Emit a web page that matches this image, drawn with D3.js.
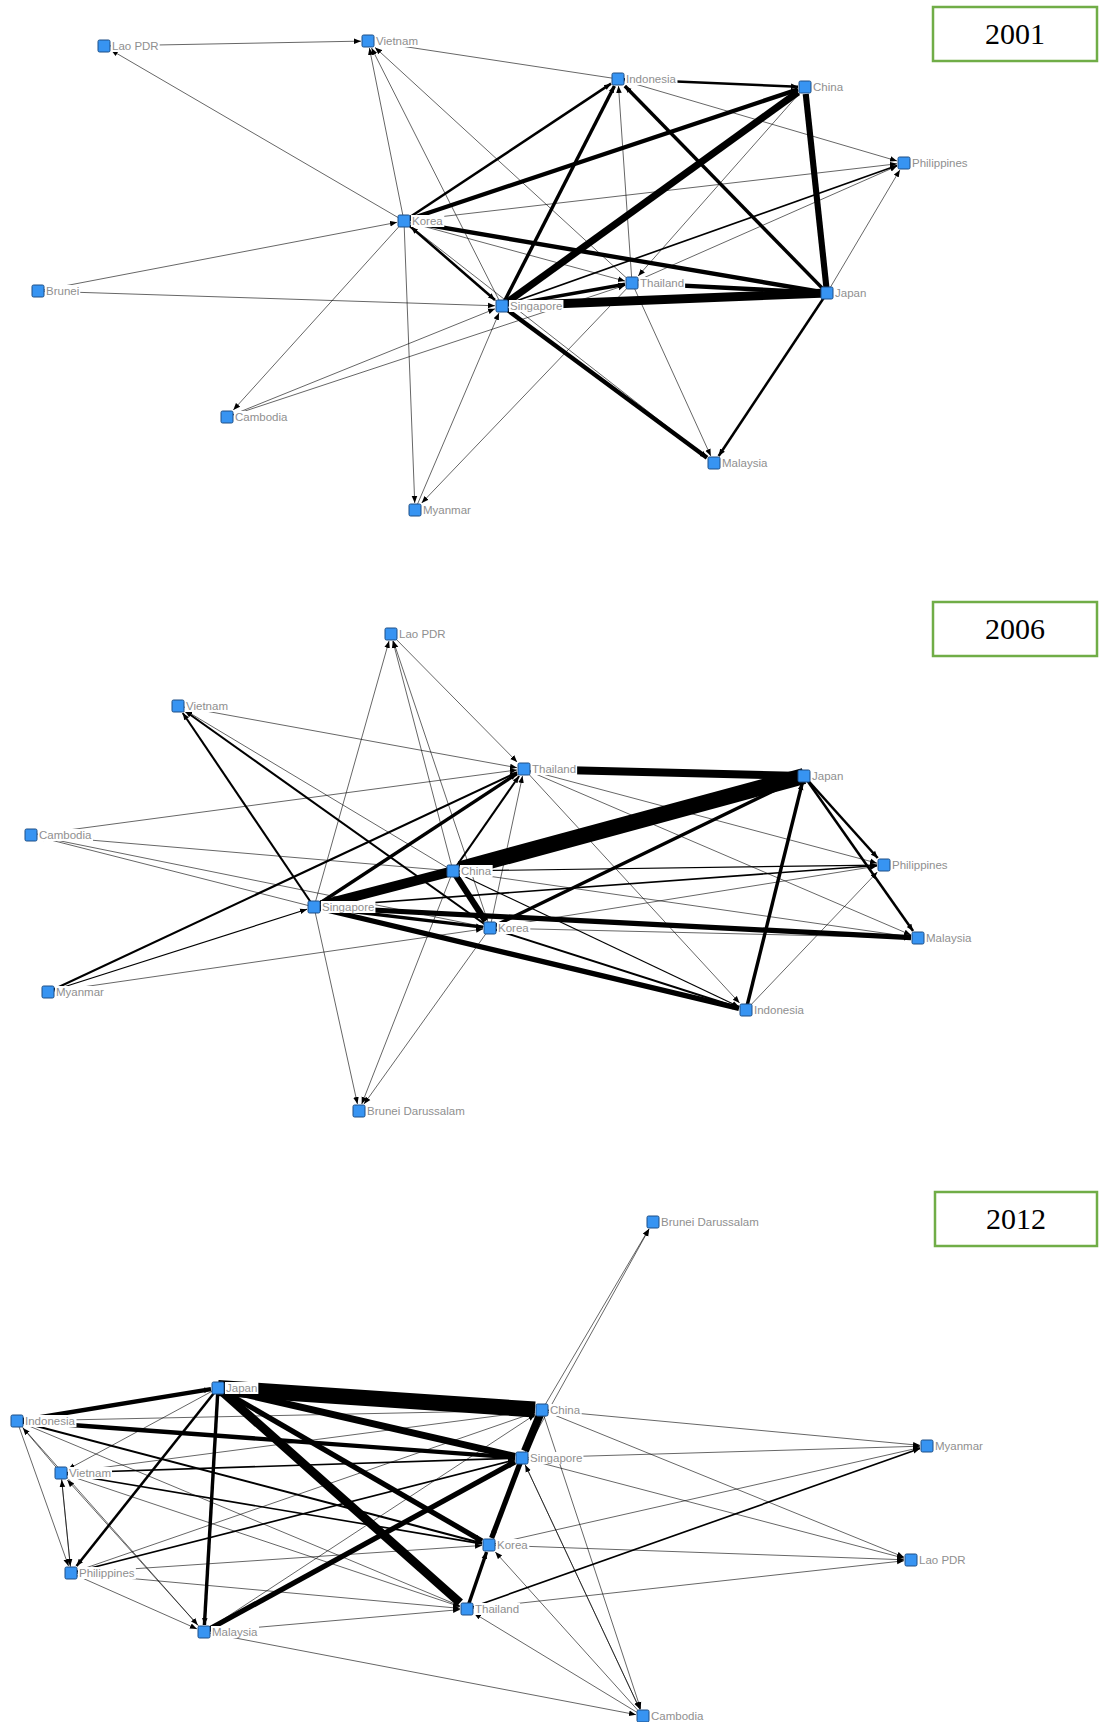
<!DOCTYPE html>
<html>
<head>
<meta charset="utf-8">
<script src="https://cdn.jsdelivr.net/npm/d3@7"></script>
<style>
  body { margin: 0; background: #fff; }
  #chart { width: 1099px; height: 1722px; }
</style>
</head>
<body>
<div id="chart"></div>
<script>
// years shown in the three panels
var years = ['2001', '2006', '2012'];

// node layout per year: [name, layoutX, layoutY] (layout units, panel-relative)
var nodes2001 = [
  ['Lao PDR', 104, 46], ['Vietnam', 368, 41], ['Indonesia', 618, 79],
  ['China', 805, 87], ['Philippines', 904, 163], ['Korea', 404, 221],
  ['Brunei', 38, 291], ['Singapore', 502, 306], ['Thailand', 632, 283],
  ['Japan', 827, 293], ['Cambodia', 227, 417], ['Malaysia', 714, 463],
  ['Myanmar', 415, 510]
];
var nodes2006 = [
  ['Lao PDR', 391, 74], ['Vietnam', 178, 146], ['Thailand', 524, 209],
  ['Japan', 804, 216], ['Cambodia', 31, 275], ['China', 453, 311],
  ['Philippines', 884, 305], ['Singapore', 314, 347], ['Korea', 490, 368],
  ['Malaysia', 918, 378], ['Myanmar', 48, 432], ['Indonesia', 746, 450],
  ['Brunei Darussalam', 359, 551]
];
var nodes2012 = [
  ['Brunei Darussalam', 653, 62], ['Japan', 218, 228], ['Indonesia', 17, 261],
  ['China', 542, 250], ['Singapore', 522, 298], ['Vietnam', 61, 313],
  ['Myanmar', 927, 286], ['Korea', 489, 385], ['Lao PDR', 911, 400],
  ['Philippines', 71, 413], ['Thailand', 467, 449], ['Malaysia', 204, 472],
  ['Cambodia', 643, 556]
];

// directed ties: [from, to, strength]
var links2001 = [
  ['Lao PDR', 'Vietnam', 1], ['Korea', 'Lao PDR', 1], ['Indonesia', 'Vietnam', 1],
  ['Korea', 'Vietnam', 1], ['Singapore', 'Vietnam', 1], ['Thailand', 'Vietnam', 1],
  ['Korea', 'China', 5], ['Korea', 'Indonesia', 3], ['Korea', 'Philippines', 1],
  ['Korea', 'Thailand', 1], ['Japan', 'Korea', 5], ['Korea', 'Singapore', 3],
  ['Singapore', 'Korea', 1], ['Brunei', 'Korea', 1], ['Brunei', 'Singapore', 1],
  ['Korea', 'Cambodia', 1], ['Cambodia', 'Singapore', 1], ['Cambodia', 'Thailand', 1],
  ['Korea', 'Myanmar', 1], ['Myanmar', 'Singapore', 1], ['Thailand', 'Myanmar', 1],
  ['Singapore', 'China', 8], ['Singapore', 'Indonesia', 4], ['Japan', 'Indonesia', 4],
  ['Indonesia', 'China', 3], ['Japan', 'China', 7], ['Japan', 'Singapore', 10],
  ['Japan', 'Thailand', 5], ['Singapore', 'Thailand', 4], ['Singapore', 'Malaysia', 5],
  ['Korea', 'Malaysia', 1], ['Japan', 'Malaysia', 3], ['Thailand', 'Malaysia', 1],
  ['Thailand', 'Indonesia', 1], ['China', 'Thailand', 1], ['Japan', 'Philippines', 1],
  ['Singapore', 'Philippines', 2], ['Thailand', 'Philippines', 1], ['Indonesia', 'Philippines', 1]
];
var links2006 = [
  ['Japan', 'China', 18], ['Japan', 'Thailand', 9], ['China', 'Singapore', 11],
  ['China', 'Korea', 7], ['Singapore', 'Malaysia', 6], ['Singapore', 'Indonesia', 6],
  ['Singapore', 'Korea', 4], ['Singapore', 'Thailand', 4], ['Korea', 'Japan', 4],
  ['Indonesia', 'Japan', 4], ['Japan', 'Philippines', 3], ['Japan', 'Malaysia', 3],
  ['Singapore', 'Vietnam', 2.5], ['Korea', 'Vietnam', 2.5], ['China', 'Vietnam', 1],
  ['Vietnam', 'Thailand', 1], ['Singapore', 'Lao PDR', 1], ['China', 'Lao PDR', 1],
  ['Korea', 'Lao PDR', 1], ['Lao PDR', 'Thailand', 1], ['Cambodia', 'Thailand', 1],
  ['China', 'Cambodia', 1], ['Korea', 'Cambodia', 1], ['Singapore', 'Cambodia', 1],
  ['Myanmar', 'Thailand', 2.5], ['Myanmar', 'Singapore', 1.5], ['Myanmar', 'Korea', 1],
  ['Singapore', 'Brunei Darussalam', 1], ['Korea', 'Brunei Darussalam', 1],
  ['China', 'Brunei Darussalam', 1], ['Korea', 'Indonesia', 2.5], ['China', 'Indonesia', 1.5],
  ['Thailand', 'Philippines', 1], ['Thailand', 'Malaysia', 1], ['Thailand', 'Indonesia', 1],
  ['China', 'Philippines', 1.5], ['Singapore', 'Philippines', 2], ['Korea', 'Philippines', 1],
  ['China', 'Malaysia', 1], ['Korea', 'Malaysia', 1], ['Indonesia', 'Philippines', 1],
  ['China', 'Thailand', 2.5], ['Korea', 'Thailand', 1]
];
var links2012 = [
  ['Japan', 'China', 18], ['Japan', 'Singapore', 8], ['Japan', 'Thailand', 10],
  ['Japan', 'Korea', 6], ['Japan', 'Malaysia', 4], ['Japan', 'Philippines', 3],
  ['Indonesia', 'Japan', 5], ['Indonesia', 'Singapore', 5], ['China', 'Singapore', 9],
  ['Singapore', 'Korea', 6], ['Thailand', 'Korea', 4], ['Malaysia', 'Singapore', 6],
  ['Indonesia', 'Korea', 2.5], ['Vietnam', 'Singapore', 2], ['Vietnam', 'Korea', 2],
  ['Philippines', 'Singapore', 2], ['Philippines', 'China', 1], ['Indonesia', 'China', 1],
  ['Japan', 'Vietnam', 1], ['Indonesia', 'Thailand', 1], ['Indonesia', 'Philippines', 1],
  ['Vietnam', 'Indonesia', 1], ['Vietnam', 'Philippines', 1], ['Philippines', 'Vietnam', 1],
  ['Malaysia', 'Vietnam', 1], ['Philippines', 'Malaysia', 1], ['Vietnam', 'Thailand', 1],
  ['Philippines', 'Thailand', 1], ['Philippines', 'Korea', 1], ['Malaysia', 'Thailand', 1],
  ['Malaysia', 'Cambodia', 1], ['China', 'Brunei Darussalam', 1],
  ['Singapore', 'Brunei Darussalam', 1], ['China', 'Myanmar', 1], ['Singapore', 'Myanmar', 1],
  ['Korea', 'Myanmar', 1], ['Thailand', 'Myanmar', 2], ['China', 'Lao PDR', 1],
  ['Singapore', 'Lao PDR', 1], ['Korea', 'Lao PDR', 1], ['Thailand', 'Lao PDR', 1],
  ['China', 'Cambodia', 1], ['Singapore', 'Cambodia', 1], ['Cambodia', 'Korea', 1],
  ['Cambodia', 'Thailand', 1], ['Cambodia', 'Singapore', 1], ['Vietnam', 'China', 1],
  ['Malaysia', 'China', 1], ['Indonesia', 'Malaysia', 1]
];

(function () {
  var W = 1099, H = 1722;
  var panels = [
    { year: years[0], nodes: nodes2001, links: links2001, top: 0, boxY: 7, boxX: 933 },
    { year: years[1], nodes: nodes2006, links: links2006, top: 560, boxY: 42, boxX: 933 },
    { year: years[2], nodes: nodes2012, links: links2012, top: 1160, boxY: 32, boxX: 935 }
  ];

  var svg = d3.select('#chart').append('svg')
    .attr('width', W)
    .attr('height', H)
    .style('background', '#fff');

  svg.append('defs').append('marker')
    .attr('id', 'arrow')
    .attr('viewBox', '0 -4 8 8')
    .attr('refX', 8)
    .attr('refY', 0)
    .attr('markerUnits', 'userSpaceOnUse')
    .attr('markerWidth', 7)
    .attr('markerHeight', 7)
    .attr('orient', 'auto')
    .append('path')
    .attr('d', 'M0,-3.2L8,0L0,3.2Z')
    .attr('fill', '#000');

  var x = d3.scaleLinear().domain([0, W]).range([0, W]);
  var width = d3.scaleLinear().domain([1, 18]).range([0.75, 16]);
  var half = 6;

  panels.forEach(function (p) {
    var y = d3.scaleLinear().domain([0, 560]).range([p.top, p.top + 560]);
    var g = svg.append('g');
    var pos = {};
    p.nodes.forEach(function (n) { pos[n[0]] = { x: x(n[1]), y: y(n[2]) }; });

    // ties
    g.append('g')
      .selectAll('line')
      .data(p.links)
      .enter().append('line')
      .each(function (d) {
        var s = pos[d[0]], t = pos[d[1]];
        var dx = t.x - s.x, dy = t.y - s.y;
        var len = Math.sqrt(dx * dx + dy * dy);
        var k = Math.max(Math.abs(dx), Math.abs(dy));
        var cut = (half + 1) * len / k; // stop at the square's border
        d3.select(this)
          .attr('x1', s.x)
          .attr('y1', s.y)
          .attr('x2', t.x - dx / len * cut)
          .attr('y2', t.y - dy / len * cut);
      })
      .attr('stroke', '#000')
      .attr('stroke-width', function (d) { return width(d[2]); })
      .attr('stroke-opacity', function (d) { return d[2] <= 1 ? 0.8 : 1; })
      .attr('marker-end', 'url(#arrow)');

    // country squares
    g.append('g')
      .selectAll('rect')
      .data(p.nodes)
      .enter().append('rect')
      .attr('x', function (d) { return x(d[1]) - half; })
      .attr('y', function (d) { return y(d[2]) - half; })
      .attr('width', half * 2)
      .attr('height', half * 2)
      .attr('rx', 1.5)
      .attr('fill', '#3794f2')
      .attr('stroke', '#1f4f86')
      .attr('stroke-width', 1);

    // labels with white backing
    var labels = g.append('g')
      .selectAll('g')
      .data(p.nodes)
      .enter().append('g');
    var txt = labels.append('text')
      .text(function (d) { return d[0]; })
      .attr('x', function (d) { return x(d[1]) + half + 2; })
      .attr('y', function (d) { return y(d[2]) + 4; })
      .attr('font-size', '11.5px')
      .attr('font-family', 'Liberation Sans, Arial, sans-serif')
      .attr('fill', '#8f8f8f');
    txt.each(function () {
      var b = this.getBBox();
      d3.select(this.parentNode).insert('rect', 'text')
        .attr('x', b.x - 1)
        .attr('y', b.y)
        .attr('width', b.width + 2)
        .attr('height', b.height)
        .attr('fill', '#fff');
    });

    // year box
    g.append('rect')
      .attr('x', p.boxX)
      .attr('y', y(p.boxY))
      .attr('width', 1097 - p.boxX)
      .attr('height', 54)
      .attr('fill', '#fff')
      .attr('stroke', '#70ad47')
      .attr('stroke-width', 2.5);
    g.append('text')
      .text(p.year)
      .attr('x', (p.boxX + 1097) / 2)
      .attr('y', y(p.boxY) + 37)
      .attr('text-anchor', 'middle')
      .attr('font-size', '30px')
      .attr('font-family', 'Liberation Serif, Times New Roman, serif')
      .attr('fill', '#000');
  });
})();
</script>
</body>
</html>
